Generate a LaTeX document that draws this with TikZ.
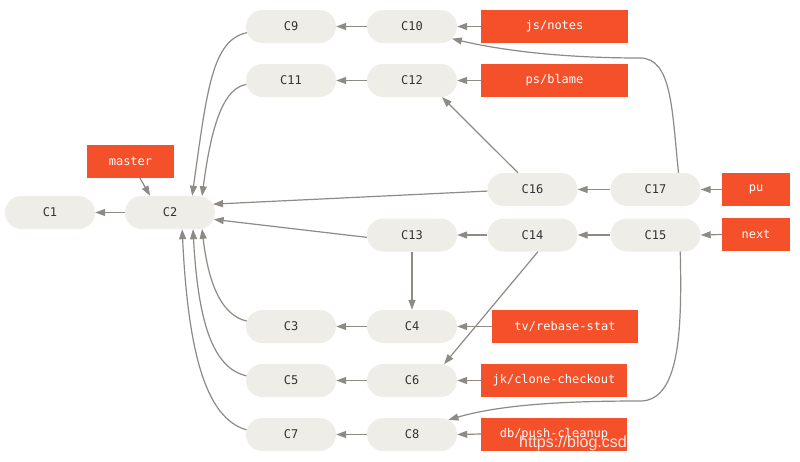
\documentclass[tikz,border=0pt]{standalone}
\usepackage{fontspec}
\setmonofont{DejaVu Sans Mono}
\setsansfont{Liberation Sans}
\usetikzlibrary{shapes.misc,arrows.meta}
\definecolor{cfill}{HTML}{EEEDE7}
\definecolor{ctext}{HTML}{333333}
\definecolor{cred}{HTML}{F4502A}
\definecolor{cgray}{HTML}{8E8A85}
\begin{document}
\begin{tikzpicture}[x=1pt,y=-1pt,
  commit/.style={rounded rectangle, fill=cfill, minimum width=90pt, minimum height=33pt,
    inner sep=0pt, font=\ttfamily\fontsize{12}{14}\selectfont, text=ctext},
  refbox/.style={rectangle, fill=cred, minimum height=33pt, inner sep=0pt,
    font=\ttfamily\fontsize{12}{14}\selectfont, text=white},
  edge/.style={draw=cgray, line width=1.2pt, -{Triangle[length=10pt,width=7pt]}}]
\useasboundingbox[fill=white] (0,0) rectangle (800,461);

% commits
\node[commit] (C1)  at (50,212.5)  {C1};
\node[commit] (C2)  at (170,212.5) {C2};
\node[commit] (C9)  at (291,26.5)  {C9};
\node[commit] (C10) at (412,26.5)  {C10};
\node[commit] (C11) at (291,80.5)  {C11};
\node[commit] (C12) at (412,80.5)  {C12};
\node[commit] (C16) at (532.5,189.5) {C16};
\node[commit] (C17) at (655.5,189.5) {C17};
\node[commit] (C13) at (412,235)   {C13};
\node[commit] (C14) at (532.5,235) {C14};
\node[commit] (C15) at (655.5,235) {C15};
\node[commit] (C3)  at (291,326.5) {C3};
\node[commit] (C4)  at (412,326.5) {C4};
\node[commit] (C5)  at (291,380.5) {C5};
\node[commit] (C6)  at (412,380.5) {C6};
\node[commit] (C7)  at (291,434.5) {C7};
\node[commit] (C8)  at (412,434.5) {C8};

% refs
\node[refbox, minimum width=147pt] (jsnotes) at (554.5,26.5) {js/notes};
\node[refbox, minimum width=147pt] (psblame) at (554.5,80.5) {ps/blame};
\node[refbox, minimum width=87pt]  (master)  at (130.5,161)  {master};
\node[refbox, minimum width=68pt]  (pu)      at (756,189.5)  {pu};
\node[refbox, minimum width=68pt]  (next)    at (756,234.5)  {next};
\node[refbox, minimum width=146pt] (tv)      at (565,326.5)  {tv/rebase-stat};
\node[refbox, minimum width=146pt] (jk)      at (554,380.5)  {jk/clone-checkout};
\node[refbox, minimum width=146pt] (db)      at (554,434)    {db/push-cleanup};

% watermark
\node[anchor=base west, inner sep=0pt, font=\sffamily\fontsize{16}{18}\selectfont,
  text=white, opacity=0.85] (wm) at (519,447) {https://blog.csdn};

% straight edges
\draw[edge] (C2.west) -- (C1.east);
\draw[edge] (C10.west) -- (C9.east);
\draw[edge] (C12.west) -- (C11.east);
\draw[edge] (C17.west) -- (C16.east);
\draw[edge] (C14.west) -- (C13.east);
\draw[edge] (C15.west) -- (C14.east);
\draw[edge] (C4.west) -- (C3.east);
\draw[edge] (C6.west) -- (C5.east);
\draw[edge] (C8.west) -- (C7.east);
\draw[edge] (C13.south) -- (C4.north);

\draw[edge] (jsnotes.west) -- (C10.east);
\draw[edge] (psblame.west) -- (C12.east);
\draw[edge] (pu.west) -- (C17.east);
\draw[edge] (next.west) -- (C15.east);
\draw[edge] (tv.west) -- (C4.east);
\draw[edge] (jk.west) -- (C6.east);
\draw[edge] (db.west) -- (C8.east);
\draw[edge] (master.-61) -- (C2.140);

\draw[edge] (C16.182) -- (C2.11);
\draw[edge] (C13.183) -- (C2.-9);
\draw[edge] (C16.131) -- (C12.-29);
\draw[edge] (C14.-72) -- (C6.27);

% curved edges into C2
\draw[edge] (C9.188) .. controls (212,40) and (207,90) .. (C2.37);
\draw[edge] (C11.185) .. controls (225,88) and (212,120) .. (C2.27);
\draw[edge] (C3.173) .. controls (220,315) and (208,280) .. (C2.-27);
\draw[edge] (C5.174) .. controls (212,368) and (198,320) .. (C2.-36);
\draw[edge] (C7.174) .. controls (205,418) and (188,350) .. (C2.-54);

% long curved edges
\draw[edge] (C17.36) .. controls (672,110) and (672,58) .. (640,58)
  .. controls (560,58) and (500,50) .. (C10.-17);
\draw[edge] (C15.-34) .. controls (682,330) and (680,401) .. (640,401)
  .. controls (560,401) and (500,405) .. (C8.22);
\end{tikzpicture}
\end{document}
